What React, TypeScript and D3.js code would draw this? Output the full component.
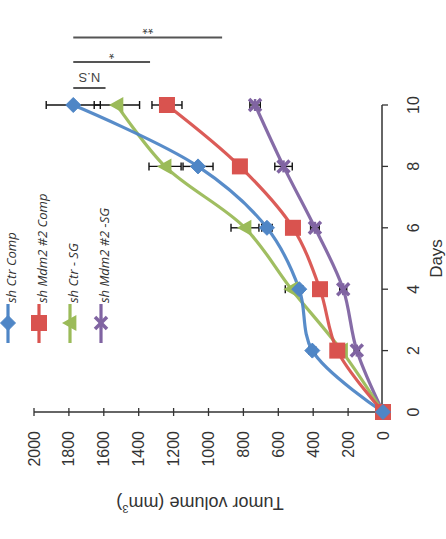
import React from "react";
import * as d3 from "d3";

// ---- data (original chart: x = Days, y = Tumor volume), drawn rotated -90° ----
const days = [0, 2, 4, 6, 8, 10];
const seriesNames = ["sh Ctr Comp", "sh Mdm2 #2 Comp", "sh Ctr - SG", "sh Mdm2 #2 -SG"];
const ctrComp = [0, 405, 480, 665, 1060, 1775];
const ctrCompErr = [0, 20, 20, 30, 86, 155];
const mdmComp = [0, 262, 361, 516, 820, 1238];
const mdmCompErr = [0, 20, 20, 25, 30, 86];
const ctrSG = [0, 238, 525, 791, 1249, 1525];
const ctrSGErr = [0, 20, 35, 80, 92, 130];
const mdmSG = [0, 150, 228, 390, 570, 733];
const mdmSGErr = [0, 15, 20, 25, 50, 30];
const colors = ["#4F86C6", "#D9534F", "#9BBB59", "#8064A2"];
const markers = ["diamond", "square", "triangle", "x"];
const volumeTicks = [0, 200, 400, 600, 800, 1000, 1200, 1400, 1600, 1800, 2000];
const dayTicks = [0, 2, 4, 6, 8, 10];
// significance brackets (volume range at a position beyond day 10)
const sigLabels = ["N.S", "*", "**"];
const sigFrom = [1775, 1775, 1775];
const sigTo = [1590, 1335, 922];
const sigDay = [10.55, 11.4, 12.2];

const seriesValues = [ctrComp, mdmComp, ctrSG, mdmSG];
const seriesErrors = [ctrCompErr, mdmCompErr, ctrSGErr, mdmSGErr];

function Marker({ type, color, x, y }: { type: string; color: string; x: number; y: number }) {
  if (type === "diamond") {
    const s = 7.5;
    return <path d={`M${x - s},${y}L${x},${y - s}L${x + s},${y}L${x},${y + s}Z`} fill={color} stroke={color} strokeWidth={1} />;
  }
  if (type === "square") {
    const s = 8;
    return <rect x={x - s} y={y - s} width={2 * s} height={2 * s} fill={color} />;
  }
  if (type === "triangle") {
    const s = 8;
    return <path d={`M${x - s},${y}L${x + s * 0.8},${y - s}L${x + s * 0.8},${y + s}Z`} fill={color} />;
  }
  const s = 6;
  return (
    <g stroke={color} strokeWidth={3.5}>
      <line x1={x - s} y1={y - s} x2={x + s} y2={y + s} />
      <line x1={x - s} y1={y + s} x2={x + s} y2={y - s} />
      <line x1={x} y1={y - s} x2={x} y2={y + s} strokeWidth={2.5} />
    </g>
  );
}

export default function App() {
  const W = 446;
  const H = 539;
  const xVol = d3.scaleLinear().domain([0, 2000]).range([383, 34]);
  const yDay = d3.scaleLinear().domain([0, 10]).range([412, 105]);
  const line = d3
    .line<number>()
    .x((v) => xVol(v))
    .y((_, i) => yDay(days[i]))
    .curve(d3.curveCatmullRom.alpha(0.5));
  const tickFont = "'Liberation Sans', Arial, sans-serif";

  return (
    <svg width={W} height={H} style={{ position: "absolute", left: 0, top: 0, background: "#fff" }}>
      {/* volume axis */}
      <line x1={xVol(0)} x2={xVol(2000)} y1={412} y2={412} stroke="#333" strokeWidth={1.5} />
      {volumeTicks.map((t) => (
        <g key={t}>
          <line x1={xVol(t)} x2={xVol(t)} y1={408} y2={416} stroke="#333" strokeWidth={1.3} />
          <text
            transform={`translate(${xVol(t)},431) rotate(-90)`}
            textAnchor="end"
            dominantBaseline="central"
            fontFamily={tickFont}
            fontSize={16}
            fill="#333"
          >
            {t}
          </text>
        </g>
      ))}
      <text
        transform={`translate(200,503) rotate(180)`}
        textAnchor="middle"
        dominantBaseline="central"
        fontFamily={tickFont}
        fontSize={18}
        fill="#333"
      >
        Tumor volume (mm<tspan baselineShift="super" fontSize={11}>3</tspan>)
      </text>

      {/* days axis */}
      <line x1={382} x2={382} y1={yDay(0)} y2={yDay(10)} stroke="#333" strokeWidth={1.5} />
      {dayTicks.map((t) => (
        <g key={t}>
          <line x1={382} x2={388} y1={yDay(t)} y2={yDay(t)} stroke="#333" strokeWidth={1.3} />
          <text
            transform={`translate(413,${yDay(t)}) rotate(-90)`}
            textAnchor="middle"
            dominantBaseline="central"
            fontFamily={tickFont}
            fontSize={16}
            fill="#333"
          >
            {t}
          </text>
        </g>
      ))}
      <text
        transform={`translate(436,${yDay(5)}) rotate(-90)`}
        textAnchor="middle"
        dominantBaseline="central"
        fontFamily={tickFont}
        fontSize={17}
        fill="#333"
      >
        Days
      </text>

      {/* series lines */}
      {[3, 2, 1, 0].map((si) => (
        <path
          key={"l" + si}
          d={line(seriesValues[si]) || ""}
          fill="none"
          stroke={colors[si]}
          strokeWidth={3.2}
          opacity={0.95}
        />
      ))}
      {/* error bars */}
      {[3, 2, 1, 0].map((si) =>
        seriesValues[si].map((v, i) => {
          const e = seriesErrors[si][i];
          if (!e) return null;
          const y = yDay(days[i]);
          const x1 = xVol(v - e);
          const x2 = xVol(v + e);
          return (
            <g key={`e${si}-${i}`} stroke="#111" strokeWidth={1.4}>
              <line x1={x1} x2={x2} y1={y} y2={y} />
              <line x1={x1} x2={x1} y1={y - 4} y2={y + 4} />
              <line x1={x2} x2={x2} y1={y - 4} y2={y + 4} />
            </g>
          );
        })
      )}
      {/* markers */}
      {[3, 2, 1, 0].map((si) =>
        seriesValues[si].map((v, i) => (
          <Marker key={`m${si}-${i}`} type={markers[si]} color={colors[si]} x={xVol(v)} y={yDay(days[i])} />
        ))
      )}

      {/* significance brackets */}
      {sigLabels.map((lab, i) => {
        const y = yDay(sigDay[i]);
        const xa = xVol(sigFrom[i]);
        const xb = xVol(sigTo[i]);
        return (
          <g key={"s" + i}>
            <line x1={xa} x2={xb} y1={y} y2={y} stroke="#555" strokeWidth={2} />
            <text
              transform={`translate(${(xa + xb) / 2},${y - (lab === "N.S" ? 11 : 8)}) rotate(180)`}
              textAnchor="middle"
              dominantBaseline="central"
              fontFamily={tickFont}
              fontSize={lab === "N.S" ? 13 : 14}
              fill="#444"
            >
              {lab}
            </text>
          </g>
        );
      })}

      {/* legend */}
      {seriesNames.map((name, i) => {
        const x = 8 + i * 31;
        const y = 323;
        return (
          <g key={"lg" + i}>
            <line x1={x} x2={x} y1={304} y2={343} stroke={colors[i]} strokeWidth={3.2} />
            <Marker type={markers[i]} color={colors[i]} x={x} y={y} />
            <text
              transform={`translate(${x + 3},303) rotate(-90)`}
              textAnchor="start"
              dominantBaseline="central"
              fontFamily="'Open Sans', sans-serif"
              fontStyle="italic"
              fontSize={13}
              fill="#333"
            >
              {name}
            </text>
          </g>
        );
      })}
    </svg>
  );
}
